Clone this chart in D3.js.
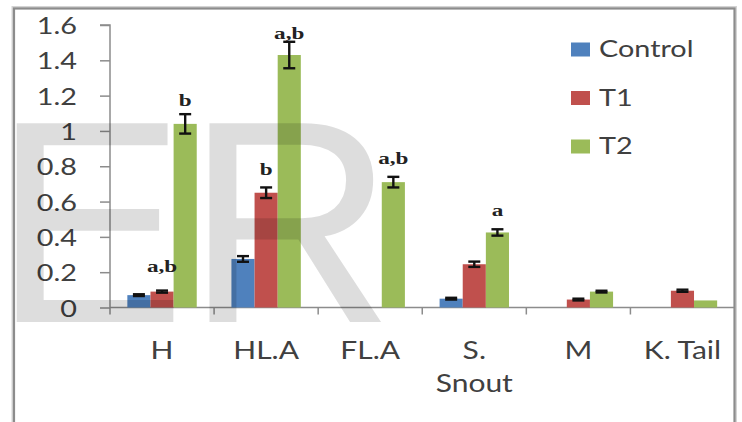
<!DOCTYPE html>
<html>
<head>
<meta charset="utf-8">
<script src="https://cdn.jsdelivr.net/npm/d3@7"></script>
<style>
  html, body { margin: 0; padding: 0; background: #fff; }
  svg { display: block; }
</style>
</head>
<body>
<svg id="chart" width="742" height="422"></svg>
<script>
// Measured body-part indices per treatment group
const categories = ["H", "HL.A", "FL.A", "S. Snout", "M", "K. Tail"];
const seriesNames = ["Control", "T1", "T2"];
const controlValues = [0.07, 0.275, 0, 0.05, 0, 0];
const t1Values      = [0.09, 0.65, 0, 0.245, 0.045, 0.095];
const t2Values      = [1.04, 1.43, 0.71, 0.425, 0.09, 0.04];
const controlErrors = [0.005, 0.016, 0, 0.005, 0, 0];
const t1Errors      = [0.006, 0.03, 0, 0.015, 0.005, 0.006];
const t2Errors      = [0.055, 0.075, 0.03, 0.018, 0.005, 0];
const yTicks = [0, 0.2, 0.4, 0.6, 0.8, 1, 1.2, 1.4, 1.6];
// Significance letters: category, series, text, baseline height (data units)
const sigCategory = ["H", "H", "HL.A", "HL.A", "FL.A", "S. Snout"];
const sigSeries   = ["T1", "T2", "T1", "T2", "T2", "T2"];
const sigText     = ["a,b", "b", "b", "a,b", "a,b", "a"];
const sigAt       = [0.20, 1.14, 0.75, 1.52, 0.81, 0.52];

const colors = { "Control": "#4f81bd", "T1": "#c0504d", "T2": "#9bbb59" };
const textColor = "#404040";
const sansFont = "Lato, 'Open Sans', sans-serif";
const sansStretch = 1.2;

const svg = d3.select("#chart");

const values = { "Control": controlValues, "T1": t1Values, "T2": t2Values };
const errors = { "Control": controlErrors, "T1": t1Errors, "T2": t2Errors };

const plot = { left: 110, right: 734.5, top: 25, bottom: 307.5 };

const x0 = d3.scaleBand().domain(categories).range([plot.left, plot.right]).padding(0);
const x1 = d3.scaleBand().domain(seriesNames).range([0, x0.bandwidth()])
  .paddingInner(0).paddingOuter(0.75);
const y = d3.scaleLinear().domain([0, 1.6]).range([plot.bottom, plot.top]);

// Outer chart frame
svg.append("rect")
  .attr("x", 14).attr("y", 8.5).attr("width", 720.5).attr("height", 440)
  .attr("fill", "none").attr("stroke", "#d4d4d4").attr("stroke-width", 5);
svg.append("rect")
  .attr("x", 14).attr("y", 8.5).attr("width", 720.5).attr("height", 440)
  .attr("fill", "#fff").attr("stroke", "#8c8c8c").attr("stroke-width", 2.2);

// stretched text helper
function stretchText(sel, sx) {
  sel.each(function () {
    const t = d3.select(this);
    const tx = +t.attr("data-x"), ty = +t.attr("data-y");
    t.attr("transform", `translate(${tx},${ty}) scale(${sx},1)`);
  });
}

// Y axis
const yAxis = d3.axisLeft(y).tickValues(yTicks).tickSize(10).tickPadding(0)
  .tickFormat(d => d3.format("~g")(d));
const gy = svg.append("g").attr("transform", `translate(${plot.left},0)`).call(yAxis);
gy.select(".domain").attr("stroke", "#8c8c8c").attr("stroke-width", 1.5)
  .attr("d", `M-10,${y(1.6)}H0V${y(0)}`);
gy.selectAll(".tick line").attr("stroke", "#8c8c8c").attr("stroke-width", 1.5);
gy.selectAll(".tick text").remove();
gy.selectAll(".tick").each(function (d) {
  d3.select(this).append("text")
    .attr("data-x", -33).attr("data-y", 8.5)
    .attr("text-anchor", "end")
    .attr("fill", textColor)
    .attr("font-family", sansFont)
    .attr("font-size", 24)
    .text(d3.format("~g")(d));
});
stretchText(gy.selectAll(".tick text"), sansStretch);

// X axis line with category boundary ticks
const gx = svg.append("g");
gx.append("line")
  .attr("x1", plot.left).attr("x2", plot.right)
  .attr("y1", y(0)).attr("y2", y(0))
  .attr("stroke", "#8c8c8c").attr("stroke-width", 1.5);
const boundaries = categories.map(c => x0(c)).concat([plot.right]);
gx.selectAll("line.bound").data(boundaries.slice(0, -1)).join("line")
  .attr("class", "bound")
  .attr("x1", d => d).attr("x2", d => d)
  .attr("y1", y(0)).attr("y2", y(0) + 7)
  .attr("stroke", "#8c8c8c").attr("stroke-width", 1.5);

// Category labels (wrapped on spaces after a period when long)
categories.forEach(c => {
  const lines = c === "S. Snout" ? ["S.", "Snout"] : [c];
  lines.forEach((ln, i) => {
    gx.append("text")
      .attr("class", "xlab")
      .attr("data-x", x0(c) + x0.bandwidth() / 2)
      .attr("data-y", 359 + i * 33)
      .attr("text-anchor", "middle")
      .attr("fill", textColor)
      .attr("font-family", sansFont)
      .attr("font-size", 25)
      .text(ln);
  });
});
stretchText(gx.selectAll("text.xlab"), sansStretch);

// Bars
const barData = [];
categories.forEach((c, i) => {
  seriesNames.forEach(s => {
    barData.push({ cat: c, series: s, value: values[s][i], err: errors[s][i] });
  });
});

const gBars = svg.append("g");
gBars.selectAll("rect").data(barData.filter(d => d.value > 0)).join("rect")
  .attr("x", d => x0(d.cat) + x1(d.series))
  .attr("width", x1.bandwidth())
  .attr("y", d => y(d.value))
  .attr("height", d => y(0) - y(d.value))
  .attr("fill", d => colors[d.series]);

// Error bars
const capHalf = 6;
const gErr = svg.append("g").attr("stroke", "#111").attr("stroke-width", 2.4);
barData.filter(d => d.value > 0 && d.err > 0).forEach(d => {
  const cx = x0(d.cat) + x1(d.series) + x1.bandwidth() / 2;
  const yt = y(d.value + d.err), yb = y(d.value - d.err);
  gErr.append("line").attr("x1", cx).attr("x2", cx).attr("y1", yt).attr("y2", yb);
  gErr.append("line").attr("x1", cx - capHalf).attr("x2", cx + capHalf).attr("y1", yt).attr("y2", yt);
  gErr.append("line").attr("x1", cx - capHalf).attr("x2", cx + capHalf).attr("y1", yb).attr("y2", yb);
});

// Significance letters
const gSig = svg.append("g");
sigText.forEach((t, i) => {
  gSig.append("text")
    .attr("data-x", x0(sigCategory[i]) + x1(sigSeries[i]) + x1.bandwidth() / 2)
    .attr("data-y", y(sigAt[i]))
    .attr("text-anchor", "middle")
    .attr("fill", "#222")
    .attr("font-family", "'Liberation Serif', 'Times New Roman', serif")
    .attr("font-weight", "bold")
    .attr("font-size", 16)
    .text(t);
});
stretchText(gSig.selectAll("text"), 1.45);

// Legend
const gLeg = svg.append("g");
seriesNames.forEach((s, i) => {
  const by = 57 + i * 48.5;
  gLeg.append("rect")
    .attr("x", 571).attr("y", by - 14.5).attr("width", 19).attr("height", 14)
    .attr("fill", colors[s]);
  gLeg.append("text")
    .attr("class", "leg")
    .attr("data-x", 599).attr("data-y", by)
    .attr("fill", textColor)
    .attr("font-family", sansFont)
    .attr("font-size", 24)
    .text(s);
});
stretchText(gLeg.selectAll("text.leg"), sansStretch);

// Publisher watermark across the plot
svg.append("text")
  .attr("x", -7).attr("y", 322)
  .attr("font-family", "'Liberation Sans', Arial, sans-serif")
  .attr("font-size", 289)
  .attr("fill", "#000")
  .attr("fill-opacity", 0.135)
  .text("ER");
</script>
</body>
</html>
